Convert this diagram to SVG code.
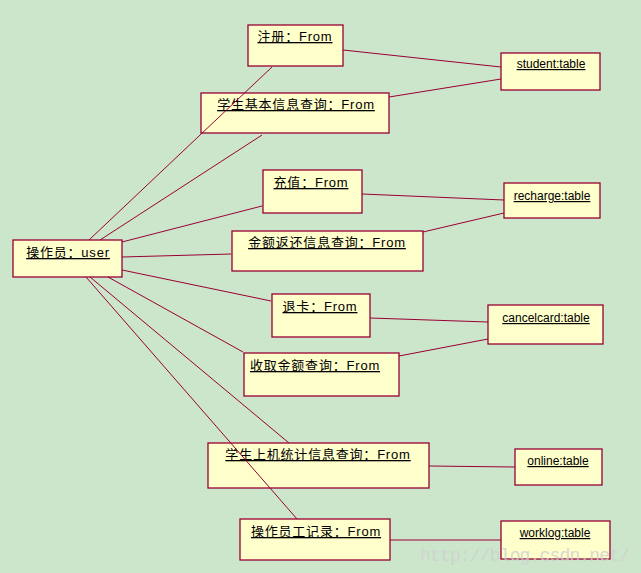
<svg xmlns="http://www.w3.org/2000/svg" width="641" height="573" viewBox="0 0 641 573">
<style>
.b{fill:#ffffcc;stroke:#990033;stroke-width:1.3}
.t{font-family:"Liberation Sans","Noto Sans CJK SC",sans-serif;font-size:13px;letter-spacing:0.8px;fill:#000;text-anchor:middle;text-decoration:underline}
.k{letter-spacing:0;font-size:12px}
.c line{stroke:#990033;stroke-width:1}
</style>
<rect width="641" height="573" fill="#cce6cc"/>
<g id="user"><rect class="b" x="13" y="240" width="109" height="37"/><text class="t" x="68" y="257">操作员：user</text></g>
<g id="zc"><rect class="b" x="248" y="25" width="95" height="41"/><text class="t" x="295" y="41">注册：From</text></g>
<g id="xsjb"><rect class="b" x="201" y="93" width="188" height="40"/><text class="t" x="296" y="109">学生基本信息查询：From</text></g>
<g id="cz"><rect class="b" x="263" y="170" width="99" height="43"/><text class="t" x="311" y="187">充值：From</text></g>
<g id="jefh"><rect class="b" x="232" y="231" width="191" height="40"/><text class="t" x="327" y="247">金额返还信息查询：From</text></g>
<g id="tk"><rect class="b" x="272" y="294" width="98" height="43"/><text class="t" x="320" y="311">退卡：From</text></g>
<g id="sqje"><rect class="b" x="244" y="353" width="155" height="43"/><text class="t" x="315" y="370">收取金额查询：From</text></g>
<g id="xssj"><rect class="b" x="208" y="443" width="221" height="45"/><text class="t" x="318" y="459">学生上机统计信息查询：From</text></g>
<g id="czyg"><rect class="b" x="240" y="519" width="150" height="41"/><text class="t" x="316" y="536">操作员工记录：From</text></g>
<g id="student"><rect class="b" x="501" y="53" width="99" height="37"/><text class="t k" x="551" y="68">student:table</text></g>
<g id="recharge"><rect class="b" x="504" y="183" width="96" height="35"/><text class="t k" x="552" y="200">recharge:table</text></g>
<g id="cancelcard"><rect class="b" x="488" y="305" width="115" height="39"/><text class="t k" x="546" y="322">cancelcard:table</text></g>
<g id="online"><rect class="b" x="515" y="449" width="87" height="36"/><text class="t k" x="558" y="465">online:table</text></g>
<g id="worklog"><rect class="b" x="501" y="521" width="109" height="38"/><text class="t k" x="555" y="537">worklog:table</text></g>
<g class="c">
<line x1="89" y1="240" x2="272" y2="67"/>
<line x1="100" y1="240" x2="262" y2="135"/>
<line x1="122" y1="242" x2="262" y2="206"/>
<line x1="122" y1="257" x2="231" y2="254"/>
<line x1="122" y1="270" x2="271" y2="301"/>
<line x1="108" y1="277" x2="243" y2="352"/>
<line x1="90" y1="277" x2="289" y2="443"/>
<line x1="86" y1="277" x2="297" y2="519"/>
<line x1="343" y1="50" x2="501" y2="67"/>
<line x1="389" y1="97" x2="501" y2="79"/>
<line x1="362" y1="194" x2="504" y2="200"/>
<line x1="423" y1="232" x2="504" y2="213"/>
<line x1="370" y1="318" x2="488" y2="322"/>
<line x1="399" y1="356" x2="488" y2="339"/>
<line x1="429" y1="466" x2="515" y2="467"/>
<line x1="390" y1="540" x2="501" y2="540"/>
</g>
<text x="420" y="561" font-family="Liberation Mono,monospace" font-size="18" textLength="210" fill="#d0d0d0" opacity="0.8">http://blog.csdn.net/</text>
</svg>
